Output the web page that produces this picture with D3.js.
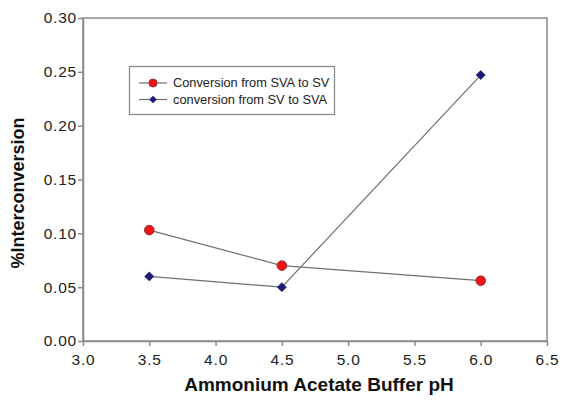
<!DOCTYPE html>
<html>
<head>
<meta charset="utf-8">
<script src="https://cdn.jsdelivr.net/npm/d3@7"></script>
<style>
  body { margin: 0; background: #fff; }
  svg { display: block; font-family: "Liberation Sans", Arial, sans-serif; }
</style>
</head>
<body>
<div class="chart"></div>
<script>
// Data
const phValues = [3.5, 4.5, 6.0]
const svaToSv = [0.103, 0.070, 0.056]
const svToSva = [0.060, 0.050, 0.247]
const xTicks = [3.0, 3.5, 4.0, 4.5, 5.0, 5.5, 6.0, 6.5]
const yTicks = [0.00, 0.05, 0.10, 0.15, 0.20, 0.25, 0.30]
const seriesNames = ['Conversion from SVA to SV', 'conversion from SV to SVA']

const width = 574
const height = 400
const margin = {top: 18, right: 27, bottom: 59, left: 83}

const svg = d3.select('.chart')
    .append('svg')
    .attr('width', width)
    .attr('height', height)

const x = d3.scaleLinear()
    .domain([3.0, 6.5])
    .range([margin.left, width - margin.right])

const y = d3.scaleLinear()
    .domain([0, 0.30])
    .range([height - margin.bottom, margin.top])

const axisColor = '#8a8a8a'

// plot frame (top and right sides)
svg.append('rect')
    .attr('x', x(3.0))
    .attr('y', y(0.30))
    .attr('width', x(6.5) - x(3.0))
    .attr('height', y(0) - y(0.30))
    .attr('fill', 'none')
    .attr('stroke', axisColor)
    .attr('stroke-width', 1.5)

// x axis
let xAxis = svg.append('g')
    .attr('transform', 'translate(0,' + y(0) + ')')
    .call(d3.axisBottom(x).tickValues(xTicks).tickFormat(d3.format('.1f')).tickSize(5).tickSizeOuter(0))
xAxis.select('.domain').attr('stroke', axisColor).attr('stroke-width', 1.5)
xAxis.selectAll('.tick line').attr('stroke', axisColor).attr('stroke-width', 1.5)
xAxis.selectAll('text')
    .attr('font-size', 15.5)
    .attr('letter-spacing', 0.8)
    .attr('fill', '#222')
    .attr('y', 9)
    .attr('dy', '0.95em')

// y axis
let yAxis = svg.append('g')
    .attr('transform', 'translate(' + x(3.0) + ',0)')
    .call(d3.axisLeft(y).tickValues(yTicks).tickFormat(d3.format('.2f')).tickSize(5).tickSizeOuter(0))
yAxis.select('.domain').attr('stroke', axisColor).attr('stroke-width', 1.5)
yAxis.selectAll('.tick line').attr('stroke', axisColor).attr('stroke-width', 1.5)
yAxis.selectAll('text')
    .attr('font-size', 15.5)
    .attr('letter-spacing', 0.8)
    .attr('fill', '#222')
    .attr('x', -6)

// axis titles
svg.append('text')
    .attr('x', 319)
    .attr('y', 391)
    .attr('text-anchor', 'middle')
    .attr('font-size', 19)
    .attr('font-weight', 'bold')
    .attr('fill', '#111')
    .text('Ammonium Acetate Buffer pH')

svg.append('text')
    .attr('transform', 'translate(24,193) rotate(-90)')
    .attr('text-anchor', 'middle')
    .attr('font-size', 18)
    .attr('font-weight', 'bold')
    .attr('fill', '#111')
    .text('%Interconversion')

const line = d3.line()
    .x((d, i) => x(phValues[i]))
    .y(d => y(d))

const lineColor = '#707070'

// series 1: red circles
svg.append('path')
    .datum(svaToSv)
    .attr('d', line)
    .attr('fill', 'none')
    .attr('stroke', lineColor)
    .attr('stroke-width', 1.2)

// series 2: navy diamonds
svg.append('path')
    .datum(svToSva)
    .attr('d', line)
    .attr('fill', 'none')
    .attr('stroke', lineColor)
    .attr('stroke-width', 1.2)

svg.selectAll('.pt-red')
    .data(svaToSv)
    .enter()
    .append('circle')
    .attr('class', 'pt-red')
    .attr('cx', (d, i) => x(phValues[i]))
    .attr('cy', d => y(d))
    .attr('r', 4.8)
    .attr('fill', '#f01414')
    .attr('stroke', '#9a2a2a')
    .attr('stroke-width', 1)

const diamond = d3.symbol().type(d3.symbolDiamond2).size(52)

svg.selectAll('.pt-blue')
    .data(svToSva)
    .enter()
    .append('path')
    .attr('class', 'pt-blue')
    .attr('transform', (d, i) => 'translate(' + x(phValues[i]) + ',' + y(d) + ')')
    .attr('d', diamond)
    .attr('fill', '#1c1a78')
    .attr('stroke', '#2a2a60')
    .attr('stroke-width', 0.8)

// Legend
let legend = svg.append('g')
legend.append('rect')
    .attr('x', 129.5)
    .attr('y', 66.5)
    .attr('width', 205)
    .attr('height', 48)
    .attr('fill', '#fff')
    .attr('stroke', axisColor)
    .attr('stroke-width', 1.3)

seriesNames.forEach((name, i) => {
    let ly = 83 + i * 16.5
    legend.append('line')
        .attr('x1', 139).attr('x2', 167)
        .attr('y1', ly).attr('y2', ly)
        .attr('stroke', lineColor)
        .attr('stroke-width', 1.2)
    if (i === 0) {
        legend.append('circle')
            .attr('cx', 153).attr('cy', ly).attr('r', 4)
            .attr('fill', '#f01414')
            .attr('stroke', '#9a2a2a')
    } else {
        legend.append('path')
            .attr('transform', 'translate(153,' + ly + ')')
            .attr('d', d3.symbol().type(d3.symbolDiamond2).size(36))
            .attr('fill', '#1c1a78')
    }
    legend.append('text')
        .attr('x', 173)
        .attr('y', ly)
        .attr('dy', '0.35em')
        .attr('font-size', 12.8)
        .attr('fill', '#222')
        .text(name)
})
</script>
</body>
</html>
